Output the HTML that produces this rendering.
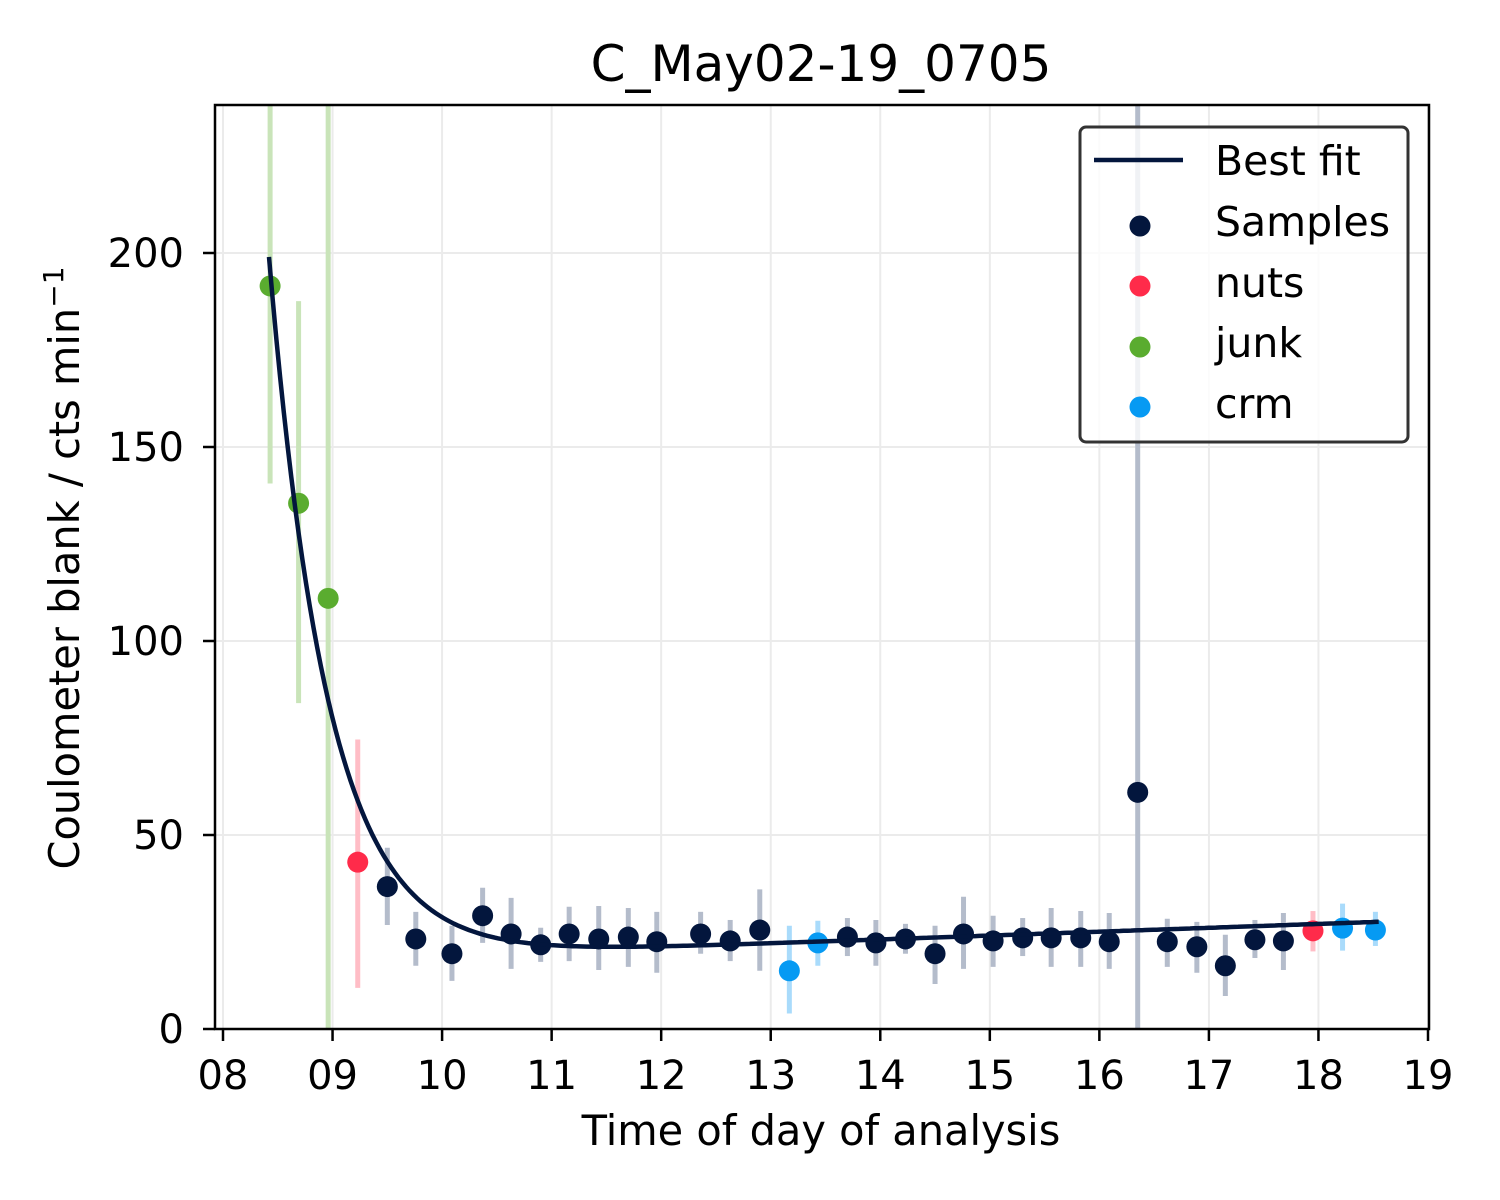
<!DOCTYPE html>
<html><head><meta charset="utf-8"><style>
html,body{margin:0;padding:0;background:#fff;}
svg{display:block;font-family:"DejaVu Sans","Liberation Sans",sans-serif;}
</style></head><body>
<svg id="chart" width="1500" height="1200" viewBox="0 0 1500 1200" xmlns="http://www.w3.org/2000/svg">
<rect width="1500" height="1200" fill="#fff"/>
<g id="grid"></g>
<g id="errs"></g>
<g id="pts"></g>
<g id="fit"></g>
<g id="axes"></g>
<text x="821" y="81" font-size="50" text-anchor="middle">C_May02-19_0705</text>
<text x="821" y="1145" font-size="41.5" text-anchor="middle">Time of day of analysis</text>
<text transform="translate(79,568) rotate(-90)" font-size="41.5" text-anchor="middle">Coulometer blank / cts min<tspan dy="-16" font-size="28">−1</tspan></text>
<g>
<rect x="1080" y="127" width="328" height="315" rx="6" fill="#fff" fill-opacity="0.8" stroke="#333" stroke-width="3"/>
<line x1="1094" y1="160" x2="1183" y2="160" stroke="#03163d" stroke-width="4.5"/>
<text x="1215" y="175" font-size="41">Best fit</text>
<circle cx="1140" cy="226" r="10.5" fill="#03163d"/><text x="1215" y="236" font-size="41">Samples</text>
<circle cx="1140" cy="286" r="10.5" fill="#ff2b4a"/><text x="1215" y="297" font-size="41">nuts</text>
<circle cx="1140" cy="347" r="10.5" fill="#5aac2f"/><text x="1215" y="357" font-size="41">junk</text>
<circle cx="1140" cy="407" r="10.5" fill="#069af3"/><text x="1215" y="418" font-size="41">crm</text>
</g>
</svg>
<script>
const groups = ['junk','junk','junk','nuts','samples','samples','samples','samples','samples','samples','samples','samples','samples','samples','samples','samples','samples','crm','crm','samples','samples','samples','samples','samples','samples','samples','samples','samples','samples','samples','samples','samples','samples','samples','samples','nuts','crm','crm'];
const times = [8.43,8.69,8.96,9.23,9.5,9.76,10.09,10.37,10.63,10.9,11.16,11.43,11.7,11.96,12.36,12.63,12.9,13.17,13.43,13.7,13.96,14.23,14.5,14.76,15.03,15.3,15.56,15.83,16.09,16.35,16.62,16.89,17.15,17.42,17.68,17.95,18.22,18.52];
const values = [191.5,135.5,111,43,36.7,23.2,19.4,29.2,24.5,21.7,24.5,23.2,23.7,22.5,24.5,22.7,25.5,15,22.2,23.7,22.2,23.2,19.4,24.5,22.7,23.5,23.5,23.5,22.5,61,22.5,21.2,16.3,23,22.7,25.3,26,25.5];
const errLo = [140.6,84,0,10.6,26.8,16.3,12.4,22.2,15.5,17.3,17.5,15.2,16,14.5,19.4,17.5,15,4,16.3,18.8,16.3,19.4,11.6,15.5,16,18.8,16,16,15.5,0,16,14.5,8.5,18.3,15.2,20,20.2,21.4];
const errHi = [260,187.6,260,74.6,46.7,30.2,26.6,36.4,33.8,26.1,31.5,31.7,31.2,30.2,30.2,28.1,36,26.6,27.9,28.6,28.1,27.1,26.6,34.1,29.2,28.6,31.2,30.4,29.9,260,28.4,27.6,24.3,28.1,29.9,30.4,32.3,30.2];
const fitParams = [181.5, 0.54, 17.5, 1.0, 8.42, 18.55]; // amplitude, tau, base, slope, t0, tEnd
const xTicks = [8,9,10,11,12,13,14,15,16,17,18,19];
const xTickLabels = ['08','09','10','11','12','13','14','15','16','17','18','19'];
const yTicks = [0,50,100,150,200];

const NS='http://www.w3.org/2000/svg';
const L=215,R=1429,T=105,B=1029;
const xs=t=>223+(t-8)*(1428-223)/11;
const ys=v=>B-v*(B-253)/200;
const colors={samples:'#03163d',nuts:'#ff2b4a',junk:'#5aac2f',crm:'#069af3'};
const ecolors={samples:'#b4bccb',nuts:'#ffbdc6',junk:'#c9e4b9',crm:'#a9dbfb'};
function mk(tag,attrs,parent){const e=document.createElementNS(NS,tag);for(const k in attrs)e.setAttribute(k,attrs[k]);parent.appendChild(e);return e;}
const grid=document.getElementById('grid'),errs=document.getElementById('errs'),pts=document.getElementById('pts'),fit=document.getElementById('fit'),axes=document.getElementById('axes');
xTicks.forEach((t,i)=>{
  const g=mk('line',{x1:xs(t),x2:xs(t),y1:T,y2:B,stroke:'#ebebeb','stroke-width':2},grid);
  
  
  const tk=mk('line',{x1:xs(t),x2:xs(t),y1:B,y2:B+12,stroke:'#000','stroke-width':2.5},axes);
  
  
  const tx=mk('text',{x:xs(t),y:B+60,'font-size':40,'text-anchor':'middle'},axes);
  tx.textContent=xTickLabels[i];
  
  
});
yTicks.forEach(v=>{
  const g=mk('line',{x1:L,x2:R,y1:ys(v),y2:ys(v),stroke:'#ebebeb','stroke-width':2},grid);
  
  
  const tk=mk('line',{x1:L-12,x2:L,y1:ys(v),y2:ys(v),stroke:'#000','stroke-width':2.5},axes);
  
  
  const tx=mk('text',{x:L-31,y:ys(v)+14,'font-size':40,'text-anchor':'end'},axes);
  tx.textContent=String(v);
  
  
});
const frame=mk('rect',{x:L,y:T,width:R-L,height:B-T,fill:'none',stroke:'#000','stroke-width':2.5},axes);


const clip=v=>Math.max(T,Math.min(B,ys(v)));
times.forEach((t,i)=>{
  const g=groups[i];
  const e=mk('line',{x1:xs(t),x2:xs(t),y1:clip(errLo[i]),y2:clip(errHi[i]),stroke:ecolors[g],'stroke-width':5},errs);
  
  
  const c=mk('circle',{cx:xs(t),cy:ys(values[i]),r:10.5,fill:colors[g]},pts);
  
  
});
const [A,tau,b0,slope,t0,tEnd]=fitParams;
let d='';
for(let k=0;k<=300;k++){const t=t0+(tEnd-t0)*k/300;const v=A*Math.exp(-(t-t0)/tau)+b0+slope*(t-t0);d+=(k?'L':'M')+xs(t).toFixed(1)+','+ys(v).toFixed(1);}
const p=mk('path',{d:d,fill:'none',stroke:'#03163d','stroke-width':4.5},fit);


</script>
</body></html>
